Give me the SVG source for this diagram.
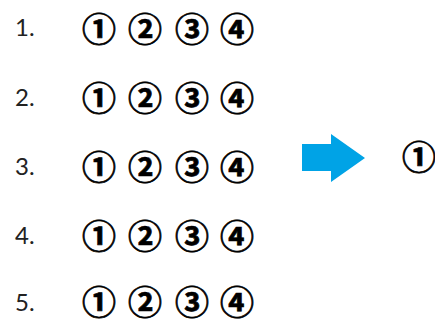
<svg xmlns="http://www.w3.org/2000/svg" width="435" height="320" viewBox="0 0 435 320">
<style>
.lbl{font-family:Lato,"Open Sans","Liberation Sans",sans-serif;font-size:24px;fill:#222}
.c{font-family:"Noto Sans CJK SC","Noto Sans CJK JP",sans-serif;font-weight:bold;font-size:34px;fill:#000;stroke:#000;stroke-width:0.7;text-anchor:middle;dominant-baseline:central}
</style>
<rect width="435" height="320" fill="#fff"/>
<g id="row1"><text class="lbl" x="15" y="36">1.</text><text class="c" x="99" y="27">①</text><text class="c" x="145" y="27">②</text><text class="c" x="192" y="27">③</text><text class="c" x="237" y="27">④</text></g>
<g id="row2"><text class="lbl" x="15" y="106">2.</text><text class="c" x="99" y="96">①</text><text class="c" x="145" y="96">②</text><text class="c" x="192" y="96">③</text><text class="c" x="237" y="96">④</text></g>
<g id="row3"><text class="lbl" x="15" y="175">3.</text><text class="c" x="99" y="165">①</text><text class="c" x="145" y="165">②</text><text class="c" x="192" y="165">③</text><text class="c" x="237" y="165">④</text></g>
<g id="row4"><text class="lbl" x="15" y="244">4.</text><text class="c" x="99" y="234">①</text><text class="c" x="145" y="234">②</text><text class="c" x="192" y="234">③</text><text class="c" x="237" y="234">④</text></g>
<g id="row5"><text class="lbl" x="15" y="311">5.</text><text class="c" x="99" y="300">①</text><text class="c" x="145" y="300">②</text><text class="c" x="192" y="300">③</text><text class="c" x="237" y="300">④</text></g>
<g id="arrow"><polygon points="302,144 331,144 331,134 365,158 331,182 331,171 302,171" fill="#00A3E6"/></g>
<g id="result"><text class="c" x="419" y="155">①</text></g>
</svg>
